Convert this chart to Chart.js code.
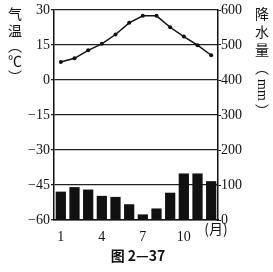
<!DOCTYPE html>
<html>
<head>
<meta charset="utf-8">
<script src="https://cdn.jsdelivr.net/npm/chart.js@4.4.1/dist/chart.umd.min.js"></script>
<style>
  html, body { margin: 0; padding: 0; background: #fff; }
  #wrap { width: 273px; height: 272px; }
</style>
</head>
<body>
<div id="wrap"><canvas id="climateChart"></canvas></div>
<script>
// --- data
const months = ['1', '2', '3', '4', '5', '6', '7', '8', '9', '10', '11', '12'];
const shownMonths = ['1', '4', '7', '10'];
const temperature = [7.7, 9.3, 12.7, 15.5, 19.5, 24.5, 27.5, 27.5, 22.6, 18.6, 14.9, 10.6];
const precipitation = [81, 94, 87, 69, 66, 45, 16, 33, 78, 133, 133, 111];
const tempRange = [-60, 30];
const rainRange = [0, 600];

const serif = '"Liberation Serif", "DejaVu Serif", serif';
const cjk = '"Noto Sans CJK SC", sans-serif';

// --- judul sumbu ditulis tegak, huruf per huruf
const sideLabels = {
  id: 'sideLabels',
  afterDraw(chart) {
    const ctx = chart.ctx;
    ctx.save();
    ctx.fillStyle = '#111';
    ctx.textAlign = 'center';
    ctx.textBaseline = 'middle';
    ctx.font = '14px ' + cjk;
    [['气', 14], ['温', 31], ['︵', 46], ['℃', 61], ['︶', 77]].forEach(([t, y]) => ctx.fillText(t, 15, y));
    [['降', 14], ['水', 32], ['量', 50], ['︵', 68], ['︶', 111]].forEach(([t, y]) => ctx.fillText(t, 262, y));
    ctx.save();
    ctx.translate(262, 90);
    ctx.rotate(Math.PI / 2);
    ctx.font = '14px ' + serif;
    ctx.fillText('mm', 0, 0);
    ctx.restore();
    ctx.font = '14px ' + cjk;
    ctx.fillText('(月)', 216, 229);
    ctx.font = 'bold 14px ' + cjk;
    ctx.fillText('图 2—37', 138, 256);
    ctx.restore();
  }
};

const ctx = document.getElementById('climateChart').getContext('2d');
new Chart(ctx, {
  data: {
    labels: months,
    datasets: [
      {
        type: 'line', label: '气温', data: temperature, yAxisID: 'y', order: 0,
        borderColor: '#111', borderWidth: 1.5, pointRadius: 2, pointBackgroundColor: '#111',
        pointBorderWidth: 0, tension: 0
      },
      {
        type: 'bar', label: '降水量', data: precipitation, yAxisID: 'y1', order: 1,
        backgroundColor: '#111', barPercentage: 0.75, categoryPercentage: 1
      }
    ]
  },
  options: {
    responsive: true, maintainAspectRatio: false, animation: false,
    layout: { padding: { top: 10, left: 0, right: 0, bottom: 0 } },
    plugins: { legend: { display: false }, tooltip: { enabled: false } },
    scales: {
      x: {
        offset: true,
        grid: { display: false },
        border: { color: '#111', width: 1.5 },
        ticks: {
          color: '#111', padding: 1, maxRotation: 0, autoSkip: false,
          font: { family: serif, size: 14 },
          callback: function (v) { const m = months[v]; return shownMonths.includes(m) ? m : ''; }
        },
        afterFit(scale) { scale.height = 52; }
      },
      y: {
        position: 'left', min: tempRange[0], max: tempRange[1],
        grid: { color: '#222', lineWidth: 1.2, tickLength: 3 },
        border: { color: '#111', width: 1.5 },
        ticks: {
          stepSize: 15, color: '#111', padding: 1,
          font: { family: serif, size: 14 },
          callback: v => String(v).replace('-', '−')
        },
        afterFit(scale) { scale.width = 54; }
      },
      y1: {
        position: 'right', min: rainRange[0], max: rainRange[1],
        grid: { drawOnChartArea: false, color: '#111', tickLength: 3 },
        border: { color: '#111', width: 1.5 },
        ticks: { stepSize: 100, color: '#111', padding: 0, font: { family: serif, size: 14 } },
        afterFit(scale) { scale.width = 55; }
      }
    }
  },
  plugins: [sideLabels]
});
</script>
</body>
</html>
